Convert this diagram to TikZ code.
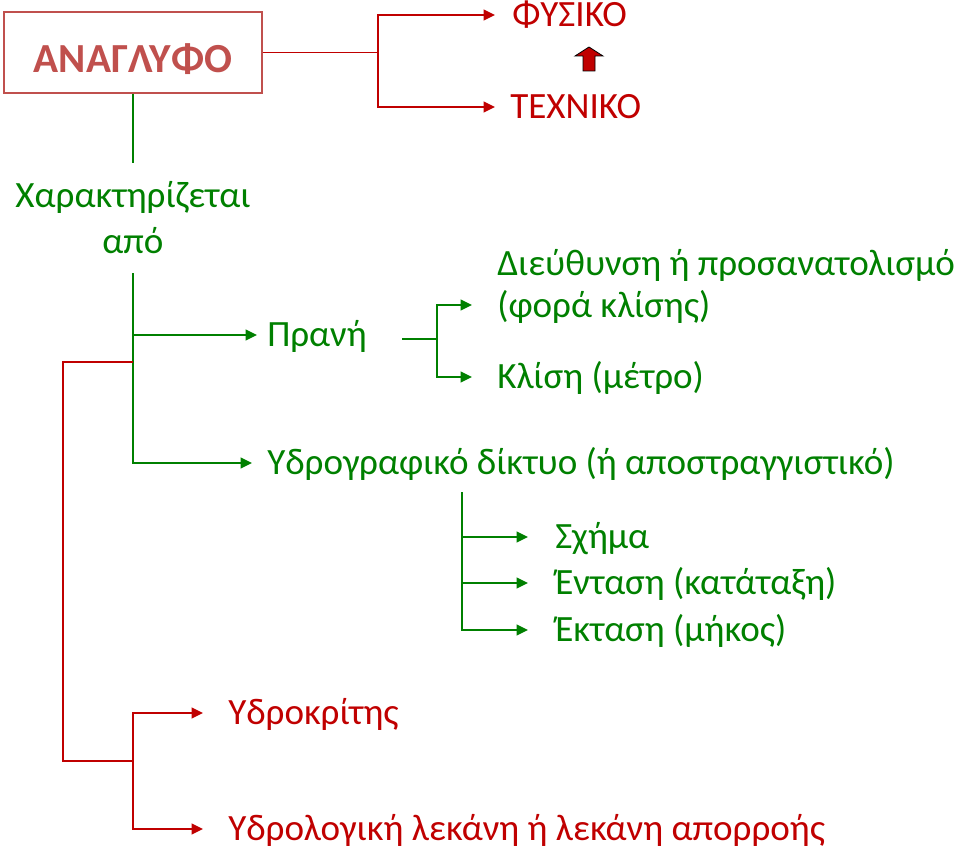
\documentclass[tikz,border=0pt]{standalone}
\usepackage{fontspec}
\setmainfont{Carlito}
\usepackage{xcolor}
\usepackage{tikz}
\usetikzlibrary{arrows.meta,calc}
\definecolor{AGRed}{HTML}{C00000}
\definecolor{AGBox}{HTML}{C0504D}
\definecolor{AGGreen}{HTML}{008000}

\begin{document}
\begin{tikzpicture}[x=0.75pt,y=-0.75pt,
  gblock/.style={inner sep=0pt,text=AGGreen,font=\fontsize{27.8}{31.5}\selectfont},
  lbl/.style={anchor=west,inner sep=0pt,text height=17.6pt,text depth=0pt,font=\fontsize{27.8}{31.5}\selectfont},
  gtxt/.style={lbl,text=AGGreen},
  rtxt/.style={lbl,text=AGRed},
  gline/.style={AGGreen,line width=1.3pt},
  rline/.style={AGRed,line width=1.3pt},
  garr/.style={gline,-{Triangle[length=8.5pt,width=8pt]}},
  rarr/.style={rline,-{Triangle[length=8.5pt,width=8pt]}},
  gap/.style={shorten >=#1*0.75pt}]
\path[use as bounding box] (0,0) rectangle (960,849);
\node[draw=AGBox,line width=1.2pt,minimum width=193.5pt,minimum height=60.75pt,inner sep=0pt,text height=30.75pt,text depth=0pt,text=AGBox,font=\fontsize{31}{37}\selectfont\bfseries] (relief) at (133,52.5) {ΑΝΑΓΛΥΦΟ};
\node[rtxt] (fysiko) at (512,15) {ΦΥΣΙΚΟ};
\node[rtxt] (texniko) at (510,107) {ΤΕΧΝΙΚΟ};
\coordinate (rtop) at (378,52.5);
\draw[rline] (relief.east) -- (rtop);
\draw[rarr,gap=17] (rtop) |- (fysiko.west);
\draw[rarr,gap=15] (rtop) |- (texniko.west);
\filldraw[fill=AGRed,draw=black,line width=0.6pt] (583,71) -- (583,56) -- (575,56) -- (589,47) -- (603,56) -- (595,56) -- (595,71) -- cycle;
\node[gblock,align=center,anchor=base] (charakt) at (133,253) {Χαρακτηρίζεται\\[3pt]από};
\coordinate (gstub) at (133,163);
\draw[gline] (relief.south) -- (gstub);
\coordinate (gtop) at (133,273);
\node[gtxt] (prani) at (267,335) {Πρανή};
\node[gtxt] (ydrograf) at (267,463) {Υδρογραφικό δίκτυο (ή αποστραγγιστικό)};
\draw[garr,gap=15] (gtop) |- (ydrograf.west);
\draw[garr,gap=10] (gtop |- prani.west) -- (prani.west);
\coordinate (gmid) at (437,339);
\node[gblock,align=left,anchor=base west] (dieuth) at (497,317) {Διεύθυνση ή προσανατολισμό\\(φορά κλίσης)};
\node[gtxt] (klisi) at (497,377) {Κλίση (μέτρο)};
\draw[gline] (gmid) -- ++(-35,0);
\draw[garr,gap=25] (gmid) |- ($(dieuth.base west)+(0,-12)$);
\draw[garr,gap=25] (gmid) |- (klisi.west);
\coordinate (gsub) at (462,492);
\node[gtxt] (schima) at (555,537) {Σχήμα};
\node[gtxt] (entasi) at (555,583) {Ένταση (κατάταξη)};
\node[gtxt] (ektasi) at (555,630) {Έκταση (μήκος)};
\draw[garr,gap=27] (gsub) |- (ektasi.west);
\draw[garr,gap=27] (gsub |- schima.west) -- (schima.west);
\draw[garr,gap=27] (gsub |- entasi.west) -- (entasi.west);
\coordinate (rfork) at (133,362);
\coordinate (rlow) at (133,761);
\node[rtxt] (ydrokr) at (228,713) {Υδροκρίτης};
\node[rtxt] (lekani) at (228,829) {Υδρολογική λεκάνη ή λεκάνη απορροής};
\draw[rline] (rfork) -- ++(-70,0) |- (rlow);
\draw[rarr,gap=25] (rlow) |- (ydrokr.west);
\draw[rarr,gap=25] (rlow) |- (lekani.west);
\end{tikzpicture}
\end{document}
